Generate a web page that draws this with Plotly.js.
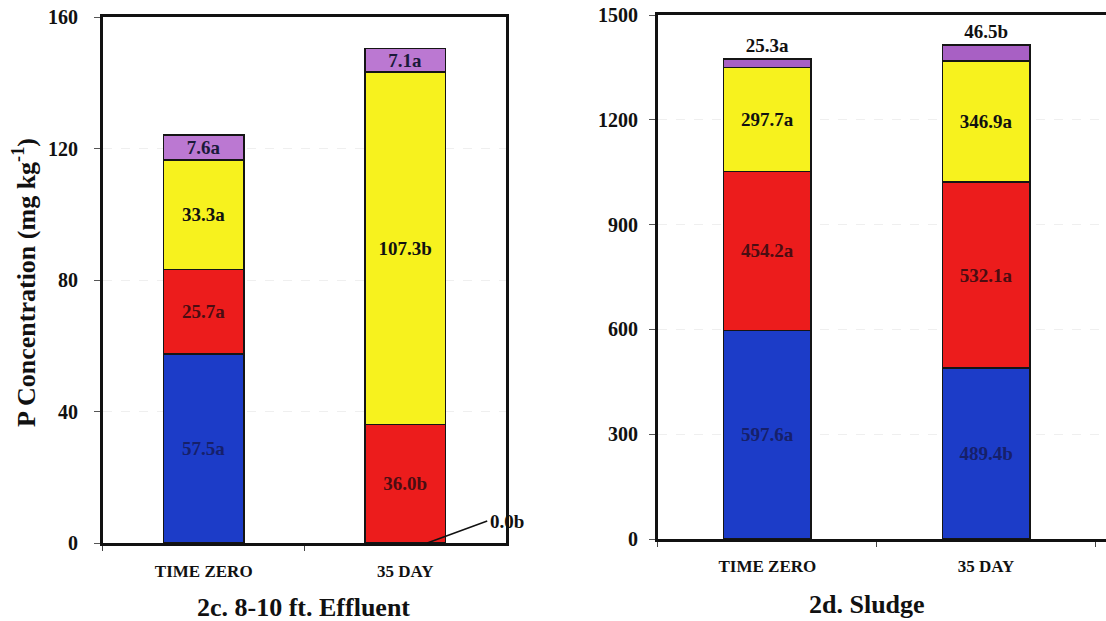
<!DOCTYPE html>
<html>
<head>
<meta charset="utf-8">
<script src="https://cdn.plot.ly/plotly-3.0.1.min.js"></script>
<style>html,body{margin:0;padding:0;background:#fff;}#chart{width:1106px;height:621px;}</style>
</head>
<body>
<div id="chart"></div>
<script>
// ---- data ----
const categories = ['TIME ZERO', '35 DAY'];

// 2c. 8-10 ft. Effluent
const effluentBlue   = [57.5, 0.0];
const effluentRed    = [25.7, 36.0];
const effluentYellow = [33.3, 107.3];
const effluentPurple = [7.6, 7.1];
const effluentBlueSig   = ['a', 'b'];
const effluentRedSig    = ['a', 'b'];
const effluentYellowSig = ['a', 'b'];
const effluentPurpleSig = ['a', 'a'];

// 2d. Sludge
const sludgeBlue   = [597.6, 489.4];
const sludgeRed    = [454.2, 532.1];
const sludgeYellow = [297.7, 346.9];
const sludgePurple = [25.3, 46.5];
const sludgeBlueSig   = ['a', 'b'];
const sludgeRedSig    = ['a', 'a'];
const sludgeYellowSig = ['a', 'a'];
const sludgePurpleSig = ['a', 'b'];

const effluentTicks = [0, 40, 80, 120, 160];
const sludgeTicks = [0, 300, 600, 900, 1200, 1500];

const panelTitles = ['2c. 8-10 ft. Effluent', '2d. Sludge'];
const yTitle = 'P Concentration (mg kg<sup>-1</sup>)';

// ---- styles ----
const COLORS = {blue: '#1c3cc8', red: '#ec1c1c', yellow: '#f7f21e', purple: '#bb78d2'};
const TXT = {blue: '#16206a', red: '#4a0d12', yellow: '#111111', purple: '#1a1a3a'};
const SERIF = 'Liberation Serif, Times New Roman, serif';
const LABEL_SIZE = 19;

function lab(vals, sigs) {
  return vals.map((v, i) => v.toFixed(1) + sigs[i]);
}

function seg(vals, sigs, color, txtColor, xa, ya, pos, name) {
  return {
    type: 'bar', x: categories, y: vals, name: name,
    xaxis: xa, yaxis: ya,
    text: lab(vals, sigs),
    textposition: vals.map(v => v === 0 ? 'none' : pos),
    insidetextanchor: 'middle', constraintext: 'none',
    textangle: 0, cliponaxis: false,
    textfont: {family: SERIF, size: LABEL_SIZE, weight: 'bold', color: txtColor},
    outsidetextfont: {family: SERIF, size: LABEL_SIZE, weight: 'bold', color: '#111'},
    marker: {color: color, line: {color: '#151515', width: 1.5}},
    hoverinfo: 'x+y', showlegend: false
  };
}

const traces = [
  seg(effluentBlue, effluentBlueSig, COLORS.blue, TXT.blue, 'x', 'y', 'inside', 'blue'),
  seg(effluentRed, effluentRedSig, COLORS.red, TXT.red, 'x', 'y', 'inside', 'red'),
  seg(effluentYellow, effluentYellowSig, COLORS.yellow, TXT.yellow, 'x', 'y', 'inside', 'yellow'),
  seg(effluentPurple, effluentPurpleSig, COLORS.purple, TXT.purple, 'x', 'y', 'inside', 'purple'),
  seg(sludgeBlue, sludgeBlueSig, COLORS.blue, TXT.blue, 'x2', 'y2', 'inside', 'blue'),
  seg(sludgeRed, sludgeRedSig, COLORS.red, TXT.red, 'x2', 'y2', 'inside', 'red'),
  seg(sludgeYellow, sludgeYellowSig, COLORS.yellow, TXT.yellow, 'x2', 'y2', 'inside', 'yellow'),
  seg(sludgePurple, sludgePurpleSig, '#a860c4', TXT.purple, 'x2', 'y2', 'outside', 'purple')
];

const tickFont = {family: SERIF, size: 20, weight: 'bold', color: '#111'};
const catFont = {family: SERIF, size: 17, weight: 'bold', color: '#111'};
const titleFont = {family: SERIF, size: 26, weight: 'bold', color: '#111'};

function xaxis(domain, range, anchor, standoff) {
  return {
    domain: domain, range: range, type: 'category', anchor: anchor,
    showline: true, mirror: true, linecolor: '#111', linewidth: 3,
    ticks: 'outside', tickson: 'boundaries', ticklen: 5, tickcolor: '#444', tickwidth: 1,
    ticklabelstandoff: standoff,
    showgrid: false, zeroline: false, tickfont: catFont, fixedrange: true
  };
}
function yaxis(domain, range, ticks, anchor, standoff) {
  return {
    domain: domain, range: range, anchor: anchor,
    tickvals: ticks, ticktext: ticks.map(String),
    showline: true, mirror: true, linecolor: '#111', linewidth: 3,
    ticks: 'outside', ticklen: 6, tickcolor: '#555', tickwidth: 1,
    ticklabelstandoff: standoff,
    showgrid: true, gridcolor: '#efefef', griddash: 'dash', gridwidth: 1,
    zeroline: false, tickfont: tickFont, fixedrange: true
  };
}

const layout = {
  width: 1106, height: 621,
  margin: {l: 0, r: 0, t: 0, b: 0},
  paper_bgcolor: '#ffffff', plot_bgcolor: '#ffffff',
  barmode: 'stack', bargap: 0.6,
  xaxis: xaxis([0.0931, 0.4575], [-0.5, 1.5], 'y', 11),
  yaxis: yaxis([0.1256, 0.9726], [0, 160], effluentTicks, 'x', 12),
  xaxis2: xaxis([0.5949, 1.0], [-0.5, 1.548], 'y2', 10),
  yaxis2: yaxis([0.132, 0.9758], [0, 1500], sludgeTicks, 'x2', 7),
  annotations: [
    {xref: 'paper', yref: 'paper', x: 0.0226, y: 0.546, text: yTitle, textangle: -90,
     showarrow: false, font: titleFont, xanchor: 'center', yanchor: 'middle'},
    {xref: 'paper', yref: 'paper', x: 0.2745, y: 0.0225, text: panelTitles[0],
     showarrow: false, font: titleFont, xanchor: 'center', yanchor: 'middle'},
    {xref: 'paper', yref: 'paper', x: 0.784, y: 0.0258, text: panelTitles[1],
     showarrow: false, font: titleFont, xanchor: 'center', yanchor: 'middle'},
    {xref: 'x', yref: 'y', x: categories[1], y: effluentBlue[1], xshift: 22,
     text: effluentBlue[1].toFixed(1) + effluentBlueSig[1],
     showarrow: true, arrowhead: 0, arrowwidth: 1.5, arrowcolor: '#111', borderpad: 2,
     xanchor: 'left', yanchor: 'middle',
     ax: 60, ay: -22, font: {family: SERIF, size: LABEL_SIZE, weight: 'bold', color: '#111'}}
  ]
};

Plotly.newPlot('chart', traces, layout, {displayModeBar: false, staticPlot: true});
</script>
</body>
</html>
